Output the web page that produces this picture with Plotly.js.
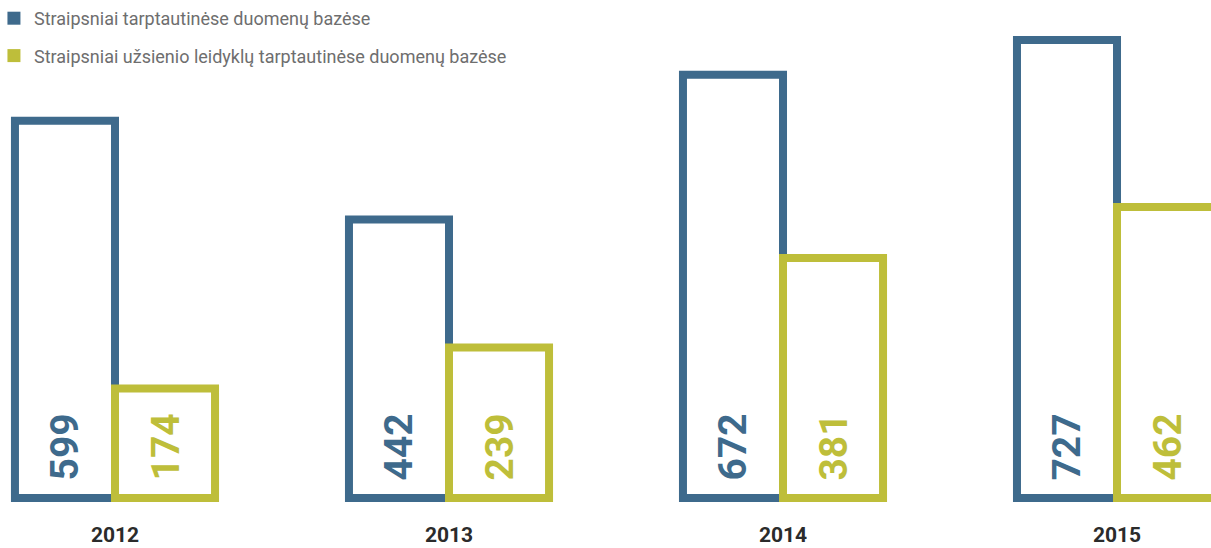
<!DOCTYPE html>
<html>
<head>
<meta charset="utf-8">
<script src="https://cdn.plot.ly/plotly-3.0.1.min.js"></script>
<style>html,body{margin:0;padding:0;background:#fff;}#chart{width:1211px;height:548px;}</style>
</head>
<body>
<div id="chart"></div>
<script>
const years = ['2012', '2013', '2014', '2015'];
const seriesNames = [
  'Straipsniai tarptautinėse duomenų bazėse',
  'Straipsniai užsienio leidyklų tarptautinėse duomenų bazėse'
];
const allArticles = [599, 442, 672, 727];
const foreignPublisherArticles = [174, 239, 381, 462];

const BLUE = '#3e6a8c';
const OLIVE = '#bebe3a';
const colors = [BLUE, OLIVE];
const seriesValues = [allArticles, foreignPublisherArticles];

const traces = [];
seriesValues.forEach((vals, i) => {
  traces.push({
    type: 'bar',
    x: years,
    y: vals,
    name: seriesNames[i],
    showlegend: false,
    marker: {color: 'rgba(255,255,255,1)', line: {color: colors[i], width: 8}},
    hoverinfo: 'x+y'
  });
});
seriesValues.forEach((vals, i) => {
  traces.push({
    type: 'scatter',
    mode: 'markers',
    x: [null],
    y: [null],
    name: seriesNames[i],
    legendgroup: 'g' + i,
    marker: {symbol: 'square', size: 13, color: colors[i]},
    showlegend: true
  });
});

const annotations = [];
seriesValues.forEach((vals, i) => {
  vals.forEach((v, j) => {
    annotations.push({
      x: j, y: 0, xref: 'x', yref: 'y',
      text: String(v),
      showarrow: false,
      textangle: -90,
      xanchor: 'center', yanchor: 'bottom',
      xshift: i === 0 ? -51 : 50,
      yshift: 15,
      font: {family: 'Roboto, sans-serif', size: 39, color: colors[i], weight: 'bold'}
    });
  });
});

const layout = {
  width: 1211, height: 548,
  margin: {l: 0, r: 0, t: 0, b: 42, pad: 0, autoexpand: false},
  paper_bgcolor: '#fff', plot_bgcolor: '#fff',
  barmode: 'group', bargap: 0.401, bargroupgap: 0,
  showlegend: true,
  legend: {
    x: -0.005, y: 1, xanchor: 'left', yanchor: 'top',
    font: {family: 'Roboto, sans-serif', size: 18, color: '#6e6e6e'},
    tracegroupgap: 11, bgcolor: 'rgba(0,0,0,0)'
  },
  xaxis: {
    type: 'category', range: [-0.3443, 3.2814],
    showgrid: false, zeroline: false, showline: false, ticks: '',
    ticklabelstandoff: 14,
    tickfont: {family: 'Roboto, sans-serif', size: 21, color: '#2b2b2b', weight: 'bold'},
    fixedrange: true
  },
  yaxis: {
    range: [-12.7, 790.5], visible: false, showgrid: false, zeroline: false, fixedrange: true
  },
  annotations: annotations
};

Plotly.newPlot('chart', traces, layout, {displayModeBar: false, staticPlot: true});
</script>
</body>
</html>
